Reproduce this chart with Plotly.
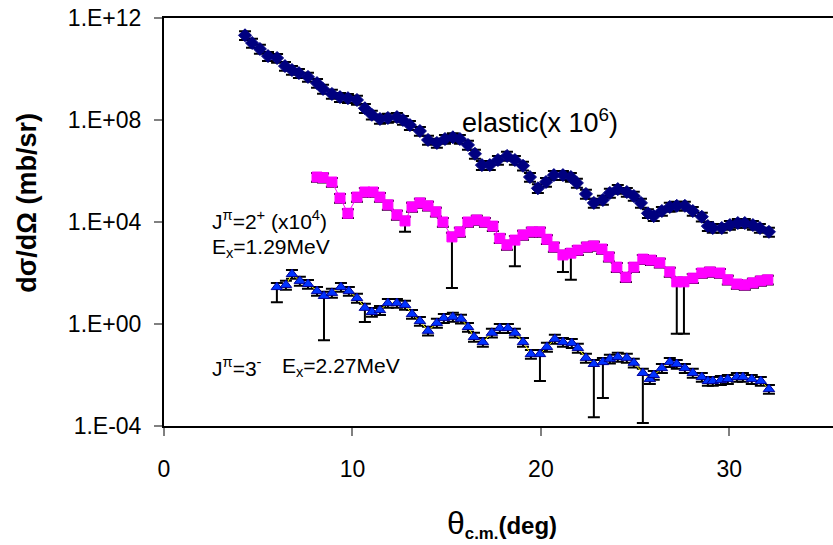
import plotly.graph_objects as go

# ---------------- data ----------------
el_x = [4.30, 4.67, 5.09, 5.52, 6.00, 6.42, 6.79, 7.16, 7.64, 8.12, 8.44, 8.91, 9.34, 9.76,
        10.24, 10.66, 11.03, 11.46, 11.88, 12.36, 12.68, 13.05, 13.58, 14.01, 14.48, 14.91,
        15.33, 15.70, 16.13, 16.50, 16.87, 17.29, 17.72, 18.20, 18.62, 19.05, 19.42, 19.84,
        20.27, 20.69, 21.17, 21.59, 21.91, 22.39, 22.81, 23.29, 23.66, 24.08, 24.56, 24.93,
        25.31, 25.68, 25.99, 26.42, 26.84, 27.21, 27.64, 28.06, 28.54, 28.86, 29.12, 29.60,
        30.03, 30.45, 30.82, 31.25, 31.62, 32.10]
el_y = [2.1e11, 1.05e11, 6.1e10, 3.2e10, 2.7e10, 1.3e10, 9.1e9, 6.9e9, 4.9e9, 2.8e9, 1.65e9,
        1.05e9, 7.9e8, 7.2e8, 6.1e8, 2.9e8, 1.6e8, 1.1e8, 1.2e8, 1.3e8, 1.0e8, 6.3e7, 3.7e7,
        1.65e7, 1.26e7, 1.8e7, 2.1e7, 1.8e7, 1.05e7, 4.7e6, 1.7e6, 1.7e6, 2.7e6, 3.9e6, 2.7e6,
        1.6e6, 5.8e5, 2.1e5, 3.7e5, 6.9e5, 6.9e5, 5.8e5, 3.4e5, 1.26e5, 5.6e4, 7.3e4, 1.38e5,
        1.95e5, 1.5e5, 1.05e5, 5.6e4, 2.2e4, 1.7e4, 2.7e4, 3.9e4, 4.3e4, 4.3e4, 2.7e4, 1.6e4,
        6.9e3, 5.8e3, 5.8e3, 7.6e3, 9.1e3, 9.1e3, 7.6e3, 5.8e3, 4.1e3]

mg_x = [8.12, 8.44, 8.91, 9.34, 9.76, 10.24, 10.66, 11.09, 11.46, 11.88, 12.36, 12.79, 13.16,
        13.58, 14.01, 14.43, 14.80, 15.28, 15.70, 16.13, 16.60, 17.03, 17.45, 17.82, 18.20,
        18.62, 19.05, 19.52, 19.95, 20.32, 20.69, 21.17, 21.59, 21.96, 22.44, 22.81, 23.24,
        23.61, 24.03, 24.51, 24.93, 25.41, 25.84, 26.31, 26.84, 27.21, 27.59, 28.06, 28.54,
        28.97, 29.50, 29.92, 30.40, 30.82, 31.25, 31.67, 32.04]
mg_y = [5.8e5, 5.5e5, 3.7e5, 8.7e4, 2.2e4, 9.5e4, 1.5e5, 1.5e5, 9.5e4, 4.7e4, 1.9e4, 1.1e4,
        3.9e4, 5.6e4, 4.3e4, 2.5e4, 1.0e4, 2.6e3, 4.1e3, 1.0e4, 1.2e4, 1.0e4, 6.9e3, 2.3e3,
        1.26e3, 1.95e3, 3.1e3, 4.1e3, 4.1e3, 2.1e3, 1.05e3, 5.1e2, 6.0e2, 7.9e2, 1.05e3,
        1.15e3, 8.7e2, 4.3e2, 1.7e2, 69, 1.7e2, 3.5e2, 3.2e2, 2.5e2, 1.1e2, 45, 45, 63,
        1.0e2, 1.1e2, 1.0e2, 54, 37, 34, 41, 49, 54]

tr_x = [5.99, 6.47, 6.79, 7.21, 7.64, 8.12, 8.49, 8.91, 9.39, 9.81, 10.24, 10.66, 11.03,
        11.46, 11.88, 12.36, 12.79, 13.16, 13.58, 14.01, 14.48, 14.85, 15.33, 15.76, 16.13,
        16.45, 16.92, 17.40, 17.82, 18.25, 18.62, 19.05, 19.47, 19.95, 20.32, 20.74, 21.17,
        21.64, 21.96, 22.39, 22.81, 23.29, 23.66, 24.08, 24.56, 24.93, 25.41, 25.78, 25.99,
        26.42, 26.84, 27.21, 27.64, 28.06, 28.54, 28.86, 29.12, 29.55, 29.92, 30.40, 30.72,
        31.19, 31.67, 32.10]
tr_y = [28, 34, 91, 49, 37, 19.5, 12.6, 16.6, 28, 19.5, 10.5, 4.3, 2.95, 3.5, 6.6, 6.6, 5.6,
        2.45, 1.3, 0.54, 1.1, 1.7, 1.9, 1.6, 0.76, 0.31, 0.195, 0.45, 0.69, 0.69, 0.45, 0.195,
        0.066, 0.066, 0.126, 0.26, 0.195, 0.178, 0.115, 0.047, 0.027, 0.032, 0.043, 0.051,
        0.047, 0.030, 0.012, 0.0069, 0.010, 0.0186, 0.032, 0.027, 0.0186, 0.012, 0.0083,
        0.0058, 0.0058, 0.0063, 0.0069, 0.0083, 0.0083, 0.0069, 0.0058, 0.0028]

# relative size of the ordinary error bars
err_up_rel = 0.45
err_dn_rel = 0.35
# points whose lower error bar reaches far down: (index, lower end value)
mg_low_idx = [11, 17, 25, 31, 32, 45, 46]
mg_low_val = [4.1e3, 26, 186, 110, 54, 0.41, 0.41]
tr_low_idx = [0, 6, 11, 33, 40, 41, 46]
tr_low_val = [7.2, 0.23, 1.2, 0.0058, 0.00022, 0.00126, 0.00013]

y_tickvals = [1e-4, 1e0, 1e4, 1e8, 1e12]
y_ticktext = ["1.E-04", "1.E+00", "1.E+04", "1.E+08", "1.E+12"]
x_tickvals = [0, 10, 20, 30]


def errors(ys, low_idx=(), low_val=()):
    up = [v * err_up_rel for v in ys]
    dn = [v * err_dn_rel for v in ys]
    for i, lo in zip(low_idx, low_val):
        dn[i] = ys[i] - lo
    return up, dn


FONT = "Arial, 'Liberation Sans', sans-serif"
fig = go.Figure()

series = [
    (el_x, el_y, (), (), "diamond", "#000080", "#000080", 10, "#000080"),
    (mg_x, mg_y, mg_low_idx, mg_low_val, "square", "#FF00FF", "#FF00FF", 10, "#FF00FF"),
    (tr_x, tr_y, tr_low_idx, tr_low_val, "triangle-up", "#0033FF", "#000099", 10, "#FFFF00"),
]
for xs, ys, li, lv, sym, col, lcol, size, linecol in series:
    up, dn = errors(ys, li, lv)
    fig.add_trace(go.Scatter(
        x=xs, y=ys, mode="lines+markers",
        line=dict(color=linecol, width=1),
        marker=dict(symbol=sym, color=col, size=size, line=dict(color=lcol, width=1)),
        error_y=dict(type="data", symmetric=False, array=up, arrayminus=dn,
                     color="black", thickness=2, width=6),
        showlegend=False,
    ))

fig.update_layout(
    width=833, height=545,
    margin=dict(l=164, r=0, t=18, b=119),
    paper_bgcolor="white", plot_bgcolor="white",
    font=dict(family=FONT, color="black"),
)
fig.update_xaxes(
    range=[0, 35.5], tickvals=x_tickvals, ticks="outside", ticklen=8, tickwidth=1.5,
    tickcolor="#808080", showline=True, linecolor="black", linewidth=2, mirror=True,
    showgrid=False, zeroline=False, tickfont=dict(size=23), ticklabelstandoff=13,
)
fig.update_yaxes(
    type="log", range=[-4, 12], tickvals=y_tickvals, ticktext=y_ticktext,
    ticks="outside", ticklen=8, tickwidth=1.5, tickcolor="#808080",
    showline=True, linecolor="black", linewidth=2, showgrid=False, zeroline=False,
    tickfont=dict(size=23), ticklabelstandoff=8,
)

ann = [
    dict(x=15.70, y=7.96, text="elastic(x 10<sup>6</sup>)", size=27),
    dict(x=2.44, y=4.08, text="J<sup>π</sup>=2<sup>+</sup> (x10<sup>4</sup>)", size=21),
    dict(x=2.44, y=2.98, text="E<sub>x</sub>=1.29MeV", size=21),
    dict(x=2.44, y=-1.69, text="J<sup>π</sup>=3<sup>-</sup>", size=21),
    dict(x=6.15, y=-1.69, text="E<sub>x</sub>=2.27MeV", size=21),
]
for a in ann:
    fig.add_annotation(x=a["x"], y=a["y"], xref="x", yref="y", text=a["text"],
                       showarrow=False, xanchor="left", yanchor="middle",
                       font=dict(size=a["size"], family=FONT, color="black"))

# axis titles
fig.add_annotation(x=-0.205, y=0.547, xref="paper", yref="paper", textangle=-90,
                   text="<b>dσ/dΩ (mb/sr)</b>", showarrow=False,
                   xanchor="center", yanchor="middle",
                   font=dict(size=27, family=FONT, color="black"))
fig.add_annotation(x=0.505, y=-0.24, xref="paper", yref="paper",
                   text="<span style='font-size:32px'>θ</span><b><sub>c.m.</sub>(deg)</b>",
                   showarrow=False, xanchor="center", yanchor="middle",
                   font=dict(size=24, family=FONT, color="black"))

fig.write_html("out.html")
